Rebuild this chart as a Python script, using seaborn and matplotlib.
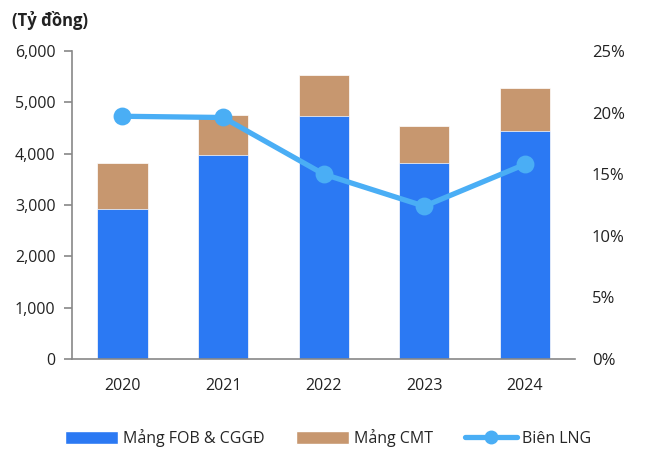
import pandas as pd
import matplotlib.pyplot as plt
import seaborn as sns
from matplotlib.patches import Patch
from matplotlib.lines import Line2D
from matplotlib.ticker import FuncFormatter

# Data
years = ['2020', '2021', '2022', '2023', '2024']
fob = [2920, 3970, 4730, 3820, 4440]        # Mảng FOB & CGGĐ
cmt = [900, 780, 800, 720, 840]             # Mảng CMT
margin = [19.7, 19.6, 15.0, 12.4, 15.8]     # Biên LNG (%)

df = pd.DataFrame({'year': years, 'fob': fob, 'cmt': cmt, 'margin': margin})
df['total'] = df['fob'] + df['cmt']

c_fob = '#2B79F3'
c_cmt = '#C7976F'
c_line = '#4AAEF5'

sns.set_style('white')
plt.rcParams['font.family'] = ['Open Sans', 'DejaVu Sans']

fig = plt.figure(figsize=(6.5, 4.53), dpi=100)
ax = fig.add_axes([0.111, 0.2075, 0.774, 0.68])

# stacked bars: total first (tan), then FOB (blue) on top
sns.barplot(data=df, x='year', y='total', color=c_cmt, width=0.5, ax=ax,
            saturation=1, edgecolor='white', linewidth=0.5)
sns.barplot(data=df, x='year', y='fob', color=c_fob, width=0.5, ax=ax,
            saturation=1, edgecolor='white', linewidth=0.5)

ax.set_ylim(0, 6000)
ax.set_yticks(range(0, 6001, 1000))
ax.yaxis.set_major_formatter(FuncFormatter(lambda v, p: f'{int(v):,}'))
ax.set_xlim(-0.5, 4.5)
ax.set_xlabel('')
ax.set_ylabel('')
ax.set_xticks(range(5))
ax.set_xticklabels(years)
ax.set_xticks([i - 0.5 for i in range(6)], minor=True)
ax.tick_params(axis='x', which='major', length=0, pad=14, labelsize=11.5, colors='#222222')
ax.tick_params(axis='x', which='minor', length=6, color='#888888', width=1.2)
ax.tick_params(axis='y', length=6, color='#888888', width=1.2, labelsize=11.5,
               left=True, pad=6)
for lab in ax.get_yticklabels():
    lab.set_color('#222222')
for s in ['top', 'right']:
    ax.spines[s].set_visible(False)
for s in ['left', 'bottom']:
    ax.spines[s].set_color('#888888')
    ax.spines[s].set_linewidth(1.2)

# margin line on secondary axis
ax2 = ax.twinx()
sns.pointplot(data=df, x='year', y='margin', color=c_line, ax=ax2,
              markers='o', markersize=10, linewidth=3.8)
ax2.set_ylim(0, 25)
ax2.set_yticks(range(0, 26, 5))
ax2.yaxis.set_major_formatter(FuncFormatter(lambda v, p: f'{int(v)}%'))
ax2.set_ylabel('')
ax2.set_xlim(-0.5, 4.5)
ax2.tick_params(axis='y', length=0, labelsize=12, pad=12, colors='#222222')
for s in ax2.spines.values():
    s.set_visible(False)

fig.text(0.018, 0.955, '(Tỷ đồng)', fontsize=12, fontweight='bold', color='#222222',
         va='center')

handles = [
    Patch(facecolor=c_fob, label='Mảng FOB & CGGĐ'),
    Patch(facecolor=c_cmt, label='Mảng CMT'),
    Line2D([0], [0], color=c_line, lw=3.8, marker='o', markersize=9, label='Biên LNG'),
]
fig.legend(handles=handles, loc='center', bbox_to_anchor=(0.505, 0.033), ncol=3,
           frameon=False, fontsize=11.5, handlelength=3.3, handleheight=0.9,
           columnspacing=2.0, handletextpad=0.3)

plt.savefig('out.png', dpi=100)
